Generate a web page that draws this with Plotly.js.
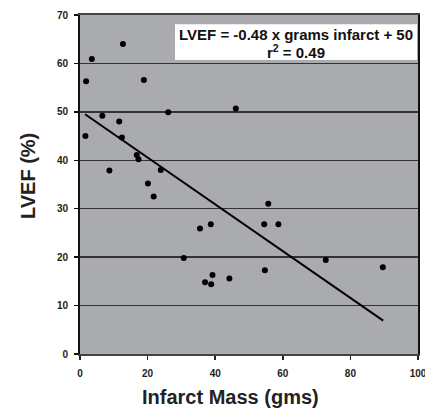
<!DOCTYPE html>
<html>
<head>
<meta charset="utf-8">
<script src="https://cdn.plot.ly/plotly-3.0.1.min.js"></script>
<style>html,body{margin:0;padding:0;background:#fff;}#chart{width:425px;height:408px;}</style>
</head>
<body>
<div id="chart"></div>
<script>
// Infarct mass (g) and LVEF (%) for each subject
var infarctMass = [1.6, 1.8, 3.5, 12.7, 18.9, 6.6, 11.6, 12.4, 8.7, 16.8, 17.3, 20.1, 21.8, 23.9, 26.1,
                   30.7, 35.5, 38.7, 37.0, 38.8, 39.2, 44.2, 46.1, 54.5, 55.7, 58.7, 54.7, 72.7, 89.6];
var lvef =        [45.0, 56.3, 60.9, 64.0, 56.6, 49.2, 48.0, 44.7, 37.9, 41.1, 40.2, 35.2, 32.5, 38.0, 49.9,
                   19.8, 25.9, 26.8, 14.8, 14.4, 16.3, 15.6, 50.7, 26.8, 31.0, 26.8, 17.3, 19.4, 17.9];
// Regression line endpoints
var fitX = [1.5, 89.7];
var fitY = [49.5, 6.9];
var xTicks = [0, 20, 40, 60, 80, 100];
var yTicks = [0, 10, 20, 30, 40, 50, 60, 70];
var eqText = "LVEF = -0.48 x grams infarct + 50";
var r2Text = "r<sup>2</sup> = 0.49";
var xTitle = "Infarct Mass (gms)";
var yTitle = "LVEF (%)";

var font = "Liberation Sans, Arial, sans-serif";

var traces = [
  {x: infarctMass, y: lvef, type: "scatter", mode: "markers",
   marker: {color: "#000", size: 6}, hoverinfo: "skip"},
  {x: fitX, y: fitY, type: "scatter", mode: "lines",
   line: {color: "#000", width: 2}, hoverinfo: "skip"}
];

var layout = {
  width: 425, height: 408,
  margin: {l: 80, r: 7, t: 15, b: 54},
  paper_bgcolor: "#fff",
  plot_bgcolor: "#aaabaf",
  showlegend: false,
  font: {family: font, color: "#222"},
  xaxis: {
    range: [0, 100], tickvals: xTicks, ticktext: xTicks.map(String),
    showgrid: false, zeroline: false,
    showline: true, linecolor: "#444", linewidth: 2, mirror: true,
    ticks: "outside", ticklen: 4, tickcolor: "#222", tickwidth: 1.5,
    tickfont: {family: font, size: 10, color: "#222", weight: "bold"},
    ticklabelstandoff: 5, ticklabeloverflow: "allow"
  },
  yaxis: {
    range: [0, 70], tickvals: yTicks, ticktext: yTicks.map(String),
    showgrid: true, gridcolor: "#333", gridwidth: 1.5, zeroline: false,
    showline: true, linecolor: "#111", linewidth: 2, mirror: true,
    ticks: "outside", ticklen: 4, tickcolor: "#111", tickwidth: 1.5,
    tickfont: {family: font, size: 10, color: "#222", weight: "bold"},
    ticklabelstandoff: 4
  },
  shapes: [
    {type: "rect", xref: "paper", yref: "paper", x0: 0.281, x1: 0.997, y0: 0.867, y1: 0.973,
     fillcolor: "#fff", line: {width: 0}, layer: "above"}
  ],
  annotations: [
    {text: eqText, xref: "paper", yref: "paper", x: 0.64, y: 0.942, xanchor: "center", yanchor: "middle",
     showarrow: false, font: {family: font, size: 15, color: "#111", weight: "bold"}},
    {text: r2Text, xref: "paper", yref: "paper", x: 0.64, y: 0.892, xanchor: "center", yanchor: "middle",
     showarrow: false, font: {family: font, size: 15, color: "#111", weight: "bold"}},
    {text: xTitle, xref: "paper", yref: "paper", x: (230.5 - 80) / 338, y: -(397 - 354) / 339,
     xanchor: "center", yanchor: "middle",
     showarrow: false, font: {family: font, size: 20, color: "#222", weight: "bold"}},
    {text: yTitle, xref: "paper", yref: "paper", x: 0, y: 0.525, xanchor: "center", yanchor: "middle",
     xshift: -52, textangle: -90, showarrow: false, font: {family: font, size: 20, color: "#222", weight: "bold"}}
  ]
};

Plotly.newPlot("chart", traces, layout, {staticPlot: true, displayModeBar: false});
</script>
</body>
</html>
